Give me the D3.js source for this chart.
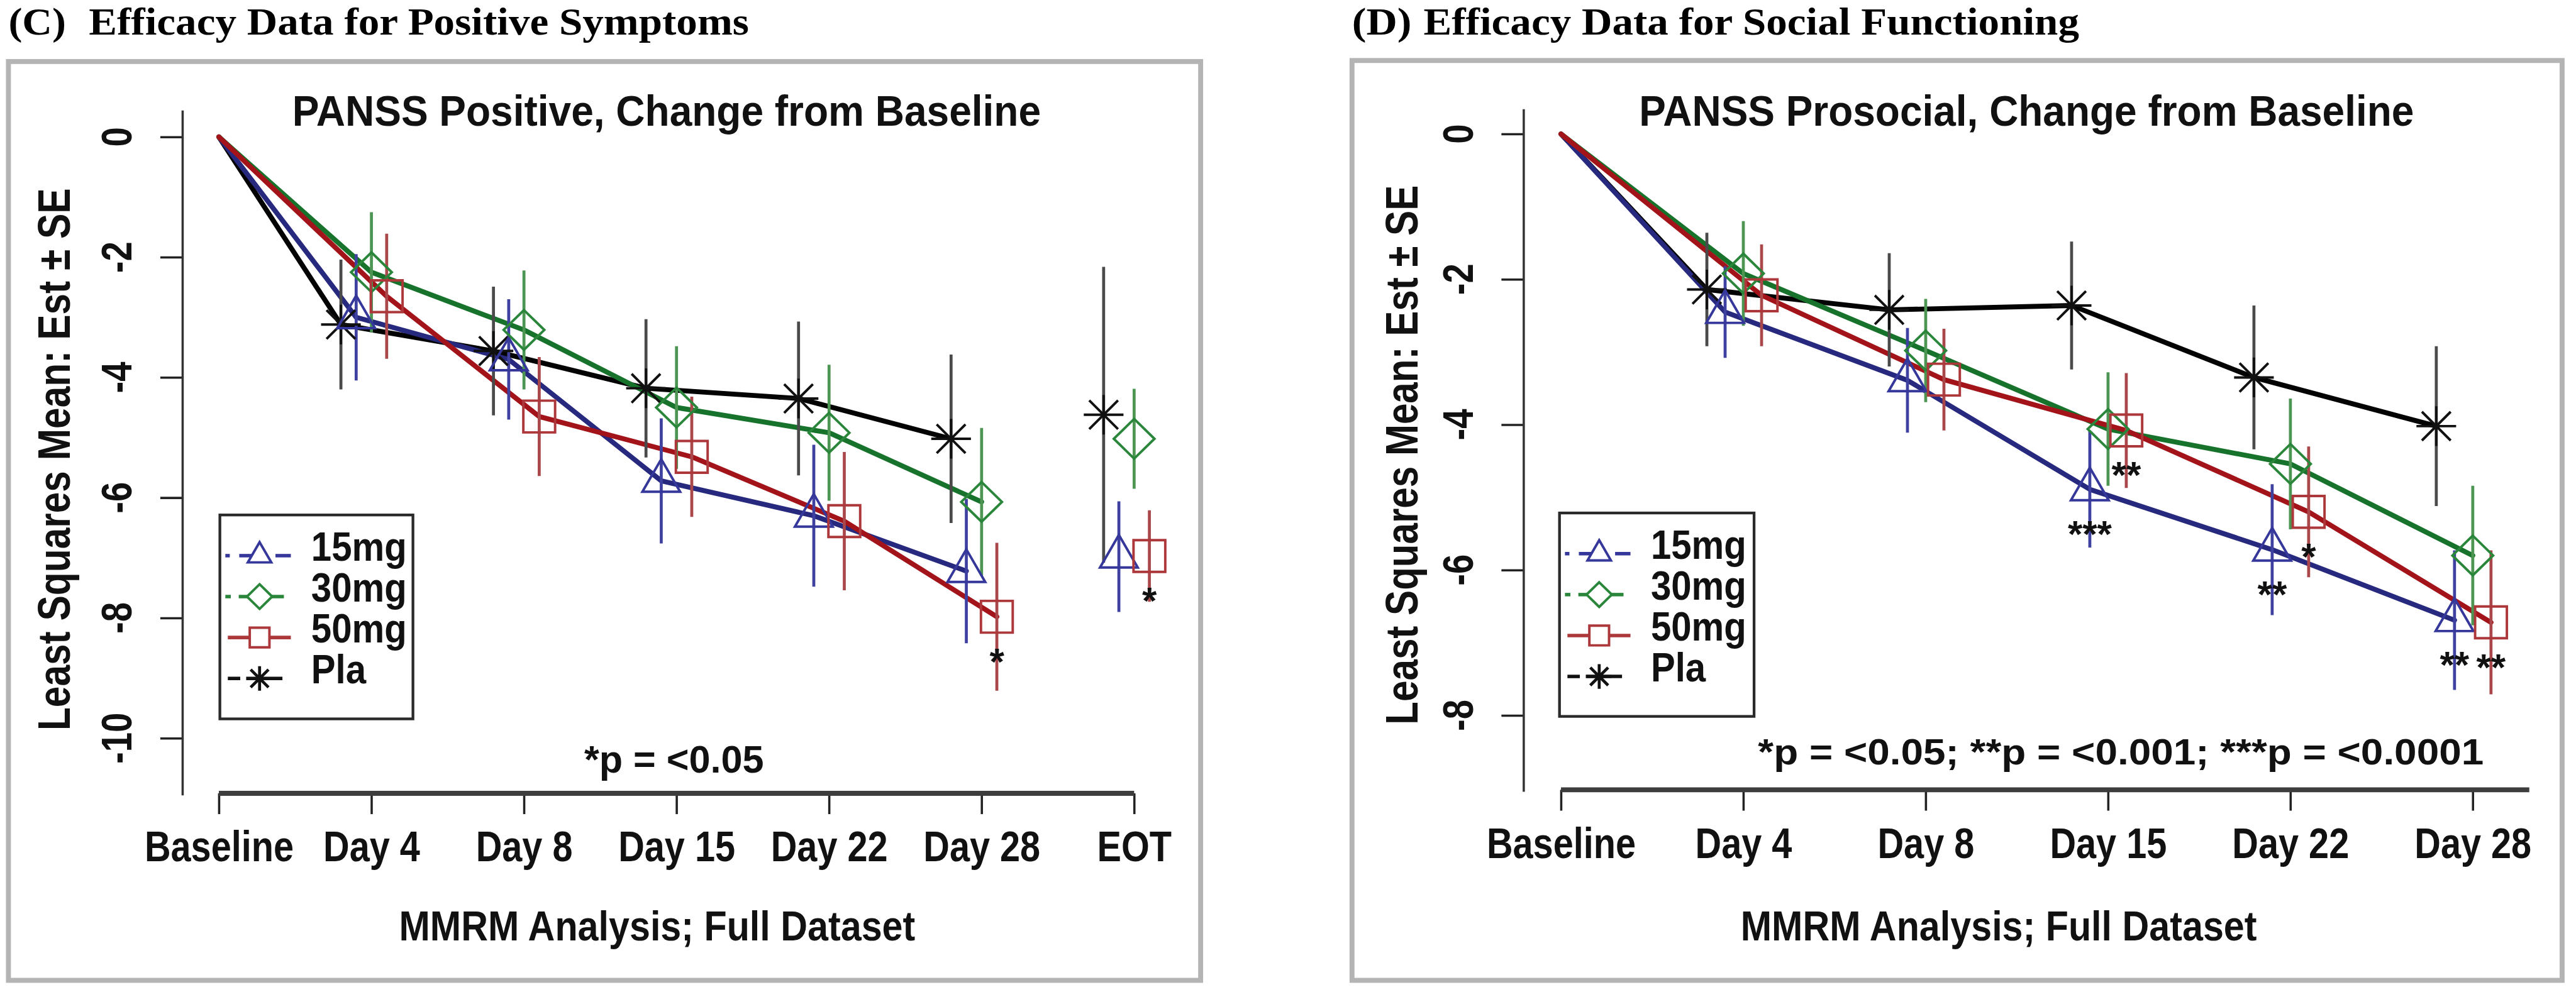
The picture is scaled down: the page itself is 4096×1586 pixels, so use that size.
<!DOCTYPE html>
<html><head><meta charset="utf-8">
<script src="https://cdn.jsdelivr.net/npm/d3@7"></script>
<style>html,body{margin:0;padding:0;background:#fff;} svg{display:block}</style>
</head><body>
<svg id="chart" width="4096" height="1586"></svg>
<script>
// ---------------- DATA ----------------
const visitsC = ["Baseline","Day 4","Day 8","Day 15","Day 22","Day 28","EOT"];
const visitsD = ["Baseline","Day 4","Day 8","Day 15","Day 22","Day 28"];
const seriesNames = ["15mg","30mg","50mg","Pla"];
const yTicksC = [0,-2,-4,-6,-8,-10];
const yTicksD = [0,-2,-4,-6,-8];

// (C) PANSS Positive: estimates and SE (Baseline, Day 4, Day 8, Day 15, Day 22, Day 28, EOT)
const posEst15  = [0,-3.00,-3.70,-5.72,-6.30,-7.22,-6.98];
const posSE15   = [0, 1.05, 1.00, 1.04, 1.18, 1.20, 0.92];
const posEst30  = [0,-2.25,-3.21,-4.50,-4.92,-6.07,-5.02];
const posSE30   = [0, 1.00, 0.99, 1.02, 1.13, 1.23, 0.83];
const posEst50  = [0,-2.65,-4.65,-5.32,-6.39,-7.98,-6.97];
const posSE50   = [0, 1.04, 0.99, 1.00, 1.15, 1.23, 0.76];
const posEstPla = [0,-3.12,-3.56,-4.18,-4.35,-5.02,-4.62];
const posSEPla  = [0, 1.08, 1.07, 1.15, 1.28, 1.40, 2.46];

// (D) PANSS Prosocial: estimates and SE (Baseline .. Day 28)
const proEst15  = [0,-2.45,-3.39,-4.89,-5.72,-6.69];
const proSE15   = [0, 0.63, 0.72, 0.80, 0.90, 0.96];
const proEst30  = [0,-1.92,-2.98,-4.06,-4.54,-5.80];
const proSE30   = [0, 0.72, 0.71, 0.78, 0.90, 0.96];
const proEst50  = [0,-2.22,-3.38,-4.08,-5.20,-6.72];
const proSE50   = [0, 0.70, 0.70, 0.79, 0.90, 0.99];
const proEstPla = [0,-2.14,-2.42,-2.36,-3.35,-4.02];
const proSEPla  = [0, 0.78, 0.78, 0.88, 0.99, 1.10];

const sigC = [{series:"50mg",visit:"Day 28",label:"*"},{series:"50mg",visit:"EOT",label:"*"}];
const sigD = [{series:"15mg",visit:"Day 15",label:"***"},{series:"50mg",visit:"Day 15",label:"**"},
              {series:"15mg",visit:"Day 22",label:"**"},{series:"50mg",visit:"Day 22",label:"*"},
              {series:"15mg",visit:"Day 28",label:"**"},{series:"50mg",visit:"Day 28",label:"**"}];

// ---------------- STYLE ----------------
const W=5190,H=2010,K=4096/5190;
const SANS="'Liberation Sans', Arial, Helvetica, sans-serif";
const SERIF="'Liberation Serif','Times New Roman', serif";
const colors = {
  "15mg":{line:"#27297F", mark:"#35389A", bar:"#3F41A0"},
  "30mg":{line:"#17722B", mark:"#2A863A", bar:"#4C9552"},
  "50mg":{line:"#A3141A", mark:"#AD383B", bar:"#A9474A"},
  "Pla": {line:"#030303", mark:"#111111", bar:"#4A4A4A"}
};
const markerType = {"15mg":"tri","30mg":"dia","50mg":"sq","Pla":"ast"};
const offsets = {"Pla":-0.2,"15mg":-0.1,"30mg":0,"50mg":0.1};
const legendSegs = {"15mg":[[-69,-60],[-41,-14],[32,63]],"30mg":[[-69,-58],[-42,-19],[11,49]],
                    "50mg":[[-64,63]],"Pla":[[-64,-39],[-27,46]]};
const drawOrder = ["Pla","15mg","30mg","50mg"];

function markerPath(type,s){
  if(type==="tri"){const yy=21.9*s,hb=38*s;return `M0,${-2*yy}L${hb},${yy}L${-hb},${yy}Z`;}
  if(type==="dia"){const a=41*s,b=40*s;return `M0,${-b}L${a},0L0,${b}L${-a},0Z`;}
  if(type==="sq"){const a=32*s;return `M${-a},${-a}H${a}V${a}H${-a}Z`;}
  const a=40*s,d=29*s;return `M${-a},0H${a}M0,${-a}V${a}M${-d},${-d}L${d},${d}M${-d},${d}L${d},${-d}`;
}
function squish(sel,k){sel.each(function(){const L=this.getComputedTextLength();d3.select(this).attr("textLength",L*k).attr("lengthAdjust","spacingAndGlyphs");});}
function fitW(sel,w){sel.attr("textLength",w).attr("lengthAdjust","spacingAndGlyphs");}

const svg=d3.select("#chart");
const root=svg.append("g").attr("transform",`scale(${K})`);
root.append("rect").attr("width",W).attr("height",H).attr("fill","#fff");

const panels=[
 {visits:visitsC, est:{"15mg":posEst15,"30mg":posEst30,"50mg":posEst50,"Pla":posEstPla},
  se:{"15mg":posSE15,"30mg":posSE30,"50mg":posSE50,"Pla":posSEPla}, sig:sigC, yTicks:yTicksC,
  lastLine:"Day 28", letter:"(C)", heading:"Efficacy Data for Positive Symptoms",
  title:"PANSS Positive, Change from Baseline", note:"*p = <0.05",
  frame:[17,124,2402,1852], letterX:17, letterW:116, headX:179, headW:1330,
  xRange:[441,2285], axisEnd:6, xAxisY:1599, yDomain:[0,-10], yRange:[276,1488], yExt:[0.44,-10.95], yAxisX:368,
  titleC:1343, titleW:1508, noteC:1358, noteY:1557, noteW:362, noteFs:77,
  xtitleC:1324, ylabX:141, ylabY:926, ylabW:1093, legend:[443,1038,389,411]},
 {visits:visitsD, est:{"15mg":proEst15,"30mg":proEst30,"50mg":proEst50,"Pla":proEstPla},
  se:{"15mg":proSE15,"30mg":proSE30,"50mg":proSE50,"Pla":proSEPla}, sig:sigD, yTicks:yTicksD,
  lastLine:"Day 28", letter:"(D)", heading:"Efficacy Data for Social Functioning",
  title:"PANSS Prosocial, Change from Baseline", note:"*p = <0.05; **p = <0.001; ***p = <0.0001",
  frame:[2724,122,2438,1854], letterX:2724, letterW:120, headX:2868, headW:1321,
  xRange:[3145,4982], axisEnd:5.31, xAxisY:1592, yDomain:[0,-8], yRange:[270,1442], yExt:[0.34,-9.05], yAxisX:3070,
  titleC:4083, titleW:1561, noteC:4273, noteY:1541, noteW:1462, noteFs:73,
  xtitleC:4027, ylabX:2856, ylabY:917, ylabW:1087, legend:[3142,1034,392,410]}
];

panels.forEach(p=>{
  const g=root.append("g");
  g.append("rect").attr("x",p.frame[0]).attr("y",p.frame[1]).attr("width",p.frame[2]).attr("height",p.frame[3])
    .attr("fill","none").attr("stroke","#b4b4b4").attr("stroke-width",10);
  // headings
  g.append("text").attr("x",p.letterX).attr("y",70).text(p.letter)
    .attr("font-family",SERIF).attr("font-weight","bold").attr("font-size",78).call(fitW,p.letterW);
  g.append("text").attr("x",p.headX).attr("y",70).text(p.heading)
    .attr("font-family",SERIF).attr("font-weight","bold").attr("font-size",78).call(fitW,p.headW);

  const x=d3.scaleLinear().domain([0,p.visits.length-1]).range(p.xRange);
  const y=d3.scaleLinear().domain(p.yDomain).range(p.yRange);

  // plot title
  g.append("text").attr("x",p.titleC).attr("y",254).attr("text-anchor","middle").text(p.title)
    .attr("font-family",SANS).attr("font-weight","bold").attr("font-size",88).attr("fill","#111").call(fitW,p.titleW);

  // x axis
  const xa=g.append("g").attr("transform",`translate(0,${p.xAxisY})`)
    .call(d3.axisBottom(x).tickValues(d3.range(p.visits.length)).tickSize(42).tickSizeOuter(0).tickFormat(i=>p.visits[i]));
  xa.select(".domain").remove();
  xa.append("line").attr("x1",x(0)).attr("x2",x(p.axisEnd)).attr("stroke","#3d3d3d").attr("stroke-width",10);
  xa.selectAll(".tick line").attr("stroke","#222").attr("stroke-width",4.5);
  xa.selectAll(".tick text").attr("y",137).attr("dy",null).attr("fill","#111")
    .attr("font-family",SANS).attr("font-weight","bold").attr("font-size",88).call(squish,0.83);
  xa.attr("font-size",null).attr("font-family",null);

  // x axis title
  g.append("text").attr("x",p.xtitleC).attr("y",1895).attr("text-anchor","middle").text("MMRM Analysis; Full Dataset")
    .attr("font-family",SANS).attr("font-weight","bold").attr("font-size",85).attr("fill","#111").call(fitW,1040);

  // y axis
  const ya=g.append("g").attr("transform",`translate(${p.yAxisX},0)`)
    .call(d3.axisLeft(y).tickValues(p.yTicks).tickSize(45).tickSizeOuter(0));
  ya.select(".domain").remove();
  ya.selectAll(".tick text").remove();
  ya.append("line").attr("y1",y(p.yExt[0])).attr("y2",y(p.yExt[1])).attr("stroke","#333").attr("stroke-width",4.5);
  ya.selectAll(".tick line").attr("stroke","#222").attr("stroke-width",4.5);
  g.selectAll(".ytl").data(p.yTicks).enter().append("text").attr("class","ytl")
    .attr("transform",d=>`translate(${p.yAxisX-103},${y(d)}) rotate(-90)`).attr("text-anchor","middle")
    .text(d=>d).attr("font-family",SANS).attr("font-weight","bold").attr("font-size",86).attr("fill","#111").call(squish,0.83);
  g.append("text").attr("transform",`translate(${p.ylabX},${p.ylabY}) rotate(-90)`).attr("text-anchor","middle")
    .text("Least Squares Mean: Est \u00B1 SE").attr("font-family",SANS).attr("font-weight","bold")
    .attr("font-size",92).attr("fill","#111").call(fitW,p.ylabW);

  // lines
  const lastIdx=p.visits.indexOf(p.lastLine);
  const xpos=(s,i)=>x(i+(i===0?0:offsets[s]));
  drawOrder.forEach(s=>{
    const pts=p.est[s].slice(0,lastIdx+1).map((v,i)=>[xpos(s,i),y(v)]);
    g.append("path").attr("d",d3.line()(pts)).attr("fill","none").attr("stroke",colors[s].line)
      .attr("stroke-width",10).attr("stroke-linejoin","round").attr("stroke-linecap","round");
  });
  // error bars
  drawOrder.forEach(s=>{
    p.est[s].forEach((v,i)=>{ if(i===0) return;
      const se=p.se[s][i];
      g.append("line").attr("x1",xpos(s,i)).attr("x2",xpos(s,i)).attr("y1",y(v+se)).attr("y2",y(v-se))
        .attr("stroke",colors[s].bar).attr("stroke-width",6);
    });
  });
  // markers
  drawOrder.forEach(s=>{
    p.est[s].forEach((v,i)=>{ if(i===0) return;
      g.append("path").attr("transform",`translate(${xpos(s,i)},${y(v)})`).attr("d",markerPath(markerType[s],1))
        .attr("fill","none").attr("stroke",colors[s].mark).attr("stroke-width",5);
    });
  });
  // significance
  p.sig.forEach(d=>{
    const i=p.visits.indexOf(d.visit), v=p.est[d.series][i];
    g.append("text").attr("x",xpos(d.series,i)).attr("y",y(v)+72+44).attr("text-anchor","middle").text(d.label)
      .attr("font-family",SANS).attr("font-weight","bold").attr("font-size",76).attr("fill","#111");
  });

  // note
  g.append("text").attr("x",p.noteC).attr("y",p.noteY).attr("text-anchor","middle").text(p.note)
    .attr("font-family",SANS).attr("font-weight","bold").attr("font-size",p.noteFs).attr("fill","#111").call(fitW,p.noteW);

  // legend
  const [lx,ly,lw,lh]=p.legend;
  const lg=g.append("g").attr("transform",`translate(${lx},${ly})`);
  lg.append("rect").attr("width",lw).attr("height",lh).attr("fill","#fff").attr("stroke","#2a2a2a").attr("stroke-width",5.5);
  seriesNames.forEach((s,k)=>{
    const ry=82+k*82.5, sx=80;
    legendSegs[s].forEach(seg=>{
      lg.append("line").attr("x1",sx+seg[0]).attr("x2",sx+seg[1]).attr("y1",ry).attr("y2",ry)
        .attr("stroke",colors[s].mark).attr("stroke-width",7);
    });
    lg.append("path").attr("transform",`translate(${sx},${ry})`).attr("d",markerPath(markerType[s],0.62))
      .attr("fill",s==="Pla"?"none":"#fff").attr("stroke",colors[s].mark).attr("stroke-width",s==="Pla"?6:5);
    lg.append("text").attr("x",184).attr("y",ry+10).text(s).attr("font-family",SANS).attr("font-weight","bold")
      .attr("font-size",81).attr("fill","#111").call(squish,0.91);
  });
});
</script>
</body></html>
